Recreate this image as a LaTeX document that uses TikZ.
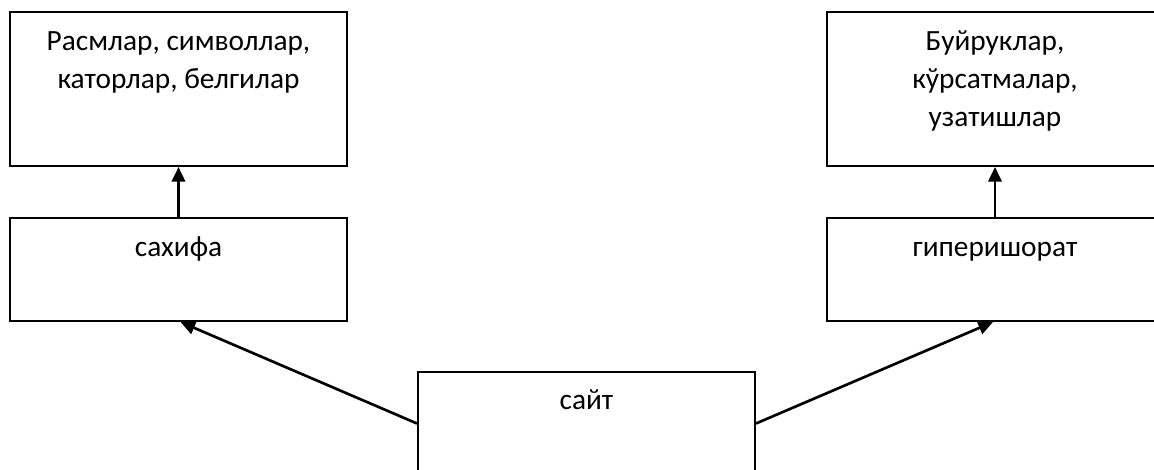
\documentclass[tikz,border=0pt]{standalone}
\usepackage{fontspec}
\setmainfont{Carlito}
\usetikzlibrary{arrows.meta,positioning,calc}
\begin{document}
\begin{tikzpicture}[x=0.75pt,y=-0.75pt,
  box/.style={draw,line width=1.5pt,minimum width=337*0.75pt,inner sep=0pt},
  tallbox/.style={box,minimum height=154*0.75pt},
  lowbox/.style={box,minimum height=103*0.75pt},
  lbl/.style={font=\fontsize{22pt}{28.7pt}\selectfont,align=center,anchor=base,inner sep=0pt},
  conn/.style={line width=2pt,-{Triangle[length=11pt,width=10pt]}}]
\clip (0,0) rectangle (1154,470);
\useasboundingbox (0,0) rectangle (1154,470);
\node[tallbox] (img) at (178.5,89) {};
\node[tallbox] (cmd) at (995,89) {};
\node[lowbox] (sah) at (178.5,269.5) {};
\node[lowbox] (hyp) at (995,269.5) {};
\node[lowbox] (site) at (586.5,423.5) {};
\node[lbl] (timg) at (178.5,88.5) {Расмлар, символлар,\\каторлар, белгилар};
\node[lbl] (tcmd) at (995,127) {Буйруклар,\\кўрсатмалар,\\узатишлар};
\node[lbl] (tsah) at (178.5,257) {сахифа};
\node[lbl] (thyp) at (995,257) {гиперишорат};
\node[lbl] (tsite) at (586.5,410) {сайт};
\draw[conn] (sah.north) -- (img.south);
\draw[conn] (hyp.north) -- (cmd.south);
\draw[conn] (site.west) -- ([xshift=2*0.75pt]sah.south);
\draw[conn] (site.east) -- ([xshift=-2*0.75pt]hyp.south);
\end{tikzpicture}
\end{document}
